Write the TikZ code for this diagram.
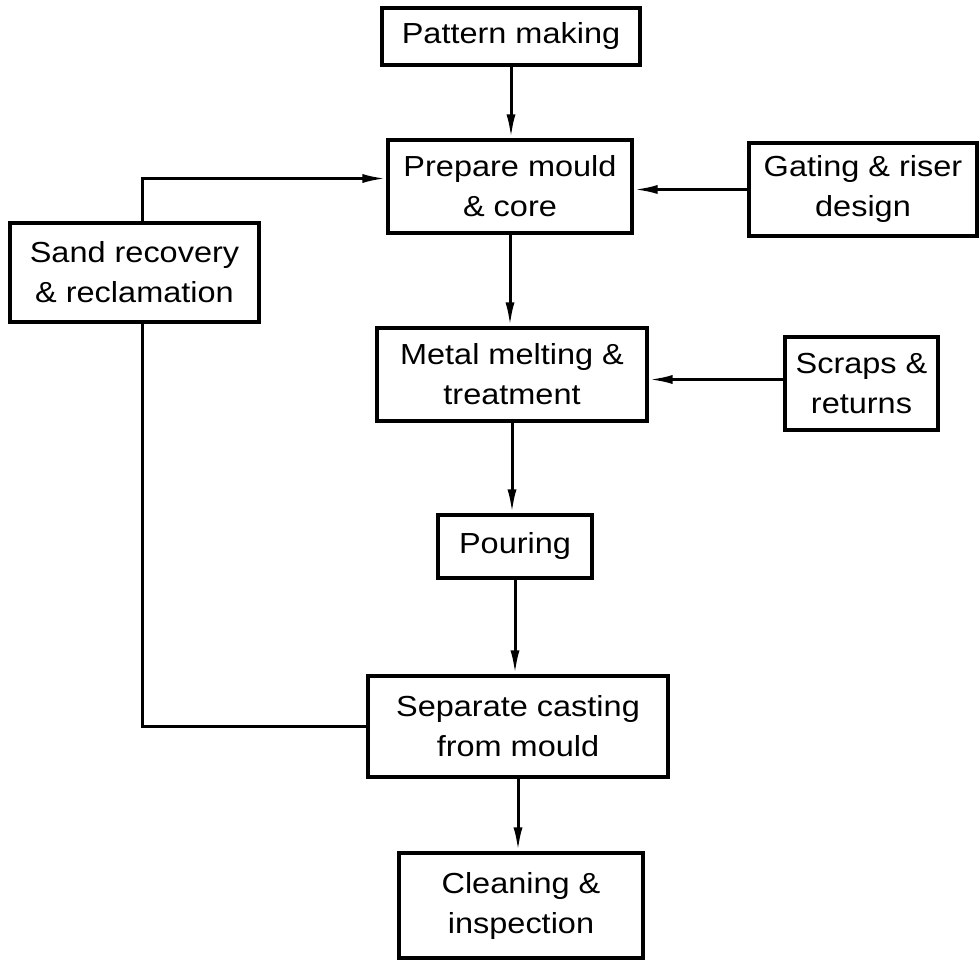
\documentclass[tikz,border=0pt]{standalone}
\usepackage{fontspec}
\setmainfont{Liberation Sans}[FakeStretch=1.12]
\usetikzlibrary{arrows.meta,positioning}

\begin{document}
\begin{tikzpicture}[x=0.5pt, y=-0.5pt,
    box/.style={draw, line width=1.6pt, align=center, inner sep=0pt, font=\fontsize{14.5}{20}\selectfont},
    flow/.style={-{Latex[length=12pt,width=4.5pt]}, line width=1.5pt},
    link/.style={line width=1.5pt}]
    \useasboundingbox (0,0) rectangle (979,961);
    \node[box, minimum width=129pt, minimum height=28.5pt] (pattern) at (511,36.5) {Pattern making};
    \node[box, minimum width=122pt, minimum height=46.5pt] (prepare) at (510,186.5) {Prepare mould\\ \& core};
    \node[box, minimum width=114pt, minimum height=46.5pt] (gating) at (863,189.5) {Gating \& riser\\ design};
    \node[box, minimum width=124.5pt, minimum height=49.5pt] (sand) at (134.5,272.5) {Sand recovery\\ \& reclamation};
    \node[box, minimum width=135pt, minimum height=46.5pt] (metal) at (512,374.5) {Metal melting \&\\ treatment};
    \node[box, minimum width=76.5pt, minimum height=46.5pt] (scraps) at (861.5,383.5) {Scraps \&\\ returns};
    \node[box, minimum width=77pt, minimum height=31.5pt] (pouring) at (515,546.5) {Pouring};
    \node[box, minimum width=150pt, minimum height=50.5pt] (separate) at (518,726.5) {Separate casting\\ from mould};
    \node[box, minimum width=122pt, minimum height=52.5pt] (cleaning) at (521,905.5) {Cleaning \&\\ inspection};

    \draw[flow] (pattern.south) -- (pattern.south |- prepare.north);
    \draw[flow] (prepare.south) -- (prepare.south |- metal.north);
    \draw[flow] (metal.south) -- (metal.south |- pouring.north);
    \draw[flow] (pouring.south) -- (pouring.south |- separate.north);
    \draw[flow] (separate.south) -- (separate.south |- cleaning.north);
    \draw[flow] (gating.west) -- (gating.west -| prepare.east);
    \draw[flow] ([yshift=2pt]scraps.west) -- ([yshift=2pt]scraps.west -| metal.east);
    \draw[flow] ([xshift=4pt]sand.north) |- ([yshift=4pt]prepare.west);
    \draw[link] (separate.west) -| ([xshift=4pt]sand.south);
\end{tikzpicture}
\end{document}
